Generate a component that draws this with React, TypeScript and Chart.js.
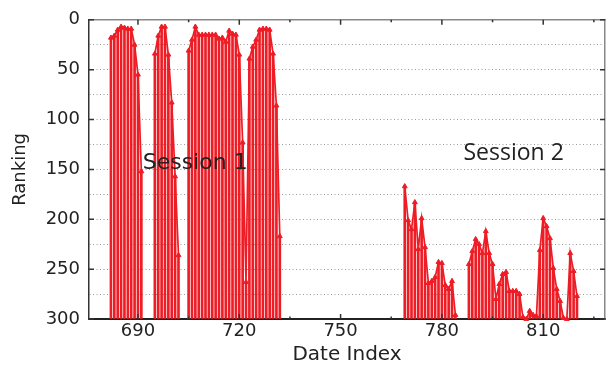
import React, { useEffect, useRef } from 'react';
import { Chart, registerables } from 'chart.js';

Chart.register(...registerables);

// ---- Data (Date Index runs, ranking values) ----
const run1Start = 682;
const run1Ranking = [18, 16, 10, 7, 8, 9, 9, 25, 55, 152];
const run2Start = 695;
const run2Ranking = [34, 16, 7, 7, 35, 83, 157, 236];
const run3Start = 705;
const run3Ranking = [
  31, 20, 7, 15, 15, 15, 15, 15, 15, 19, 18, 22, 11, 14, 15, 35, 123, 263,
  39, 27, 20, 10, 9, 9, 10, 34, 86, 217,
];
const run4Start = 769;
const run4Ranking = [167, 201, 210, 183, 230, 199, 228, 264, 262, 258, 243, 244, 266, 270, 262, 296];
const run5Start = 788;
const run5Ranking = [
  245, 232, 220, 225, 234, 212, 234, 245, 280, 265, 255, 253, 272, 272, 272, 275, 298,
  300, 292, 296, 297, 231, 199, 207, 219, 249, 270, 282, 299, 300, 234, 252, 277,
];

const runStarts = [run1Start, run2Start, run3Start, run4Start, run5Start];
const runValues = [run1Ranking, run2Ranking, run3Ranking, run4Ranking, run5Ranking];

const xTickValues = [690, 720, 750, 780, 810];
const xMinorTickValues = [705, 735, 765, 795, 825];
const yMajorTickValues = [0, 50, 100, 150, 200, 250, 300];

const sessionLabels = ['Session 1', 'Session 2'];
const sessionAnchorX = [691.4, 786.4];
const sessionAnchorY = [149.5, 140.6];

const X_MIN = 675.5;
const X_MAX = 828.3;
const RED = '#ee1c25';

export default function App() {
  const canvasRef = useRef<HTMLCanvasElement | null>(null);

  useEffect(() => {
    document.body.style.margin = '0';
    const canvas = canvasRef.current;
    if (!canvas) return;

    const lineData: { x: number; y: number | null }[] = [];
    runStarts.forEach((start, k) => {
      if (k > 0) lineData.push({ x: start - 1, y: null });
      runValues[k].forEach((v, i) => lineData.push({ x: start + i, y: v }));
    });
    const stemData = lineData.filter((p) => p.y !== null);

    const tickPlugin = {
      id: 'inwardTicks',
      afterDraw(chart: any) {
        const { ctx, chartArea, scales } = chart;
        const xs = scales.x;
        const ys = scales.y;
        ctx.save();
        ctx.strokeStyle = '#333';
        ctx.lineWidth = 1.5;
        const drawX = (v: number, len: number) => {
          const px = xs.getPixelForValue(v);
          ctx.beginPath();
          ctx.moveTo(px, chartArea.bottom);
          ctx.lineTo(px, chartArea.bottom - len);
          ctx.moveTo(px, chartArea.top);
          ctx.lineTo(px, chartArea.top + len);
          ctx.stroke();
        };
        xTickValues.forEach((v) => drawX(v, 5));
        xMinorTickValues.forEach((v) => drawX(v, 2.5));
        yMajorTickValues.forEach((v) => {
          const py = ys.getPixelForValue(v);
          ctx.beginPath();
          ctx.moveTo(chartArea.left, py);
          ctx.lineTo(chartArea.left + 5, py);
          ctx.moveTo(chartArea.right, py);
          ctx.lineTo(chartArea.right - 5, py);
          ctx.stroke();
        });
        // session annotations
        ctx.fillStyle = '#222';
        ctx.textBaseline = 'alphabetic';
        ctx.textAlign = 'left';
        sessionLabels.forEach((t, i) => {
          ctx.font = i === 0 ? '22px "DejaVu Sans"' : '23px "Open Sans"';
          ctx.fillText(t, xs.getPixelForValue(sessionAnchorX[i]), ys.getPixelForValue(sessionAnchorY[i]));
        });
        ctx.restore();
      },
    };

    const chart = new Chart(canvas, {
      type: 'line',
      data: {
        datasets: [
          {
            type: 'line',
            data: lineData as any,
            borderColor: RED,
            borderWidth: 1.7,
            pointStyle: 'triangle',
            pointRadius: 2.8,
            pointBackgroundColor: RED,
            pointBorderColor: RED,
            pointBorderWidth: 1,
            spanGaps: false,
            tension: 0,
            clip: false as any,
            order: 0,
          },
          {
            type: 'bar',
            data: stemData as any,
            base: 300,
            backgroundColor: RED,
            barThickness: 2,
            order: 1,
          } as any,
        ],
      },
      options: {
        animation: false,
        responsive: false,
        maintainAspectRatio: false,
        layout: { padding: { top: 16, right: 3, left: 0, bottom: 0 } },
        plugins: { legend: { display: false }, tooltip: { enabled: false } },
        scales: {
          x: {
            type: 'linear',
            min: X_MIN,
            max: X_MAX,
            offset: false,
            afterBuildTicks: (s: any) => {
              s.ticks = xTickValues.map((v) => ({ value: v }));
            },
            afterFit: (s: any) => {
              s.height = 49;
            },
            ticks: {
              padding: 2,
              color: '#222',
              font: { family: 'DejaVu Sans', size: 18 },
              maxRotation: 0,
              autoSkip: false,
            },
            grid: { drawOnChartArea: false, drawTicks: false },
            border: { color: '#222', width: 2 },
            title: {
              display: true,
              text: 'Date Index',
              color: '#222',
              font: { family: 'DejaVu Sans', size: 20 },
              padding: { top: 0, bottom: 1 },
            },
          },
          x2: {
            type: 'linear',
            position: 'top',
            min: X_MIN,
            max: X_MAX,
            ticks: { display: false },
            grid: { display: false, drawTicks: false },
            border: { color: '#888', width: 1.5 },
            afterFit: (s: any) => {
              s.height = 0;
            },
          },
          y: {
            type: 'linear',
            reverse: true,
            min: 0,
            max: 300,
            afterFit: (s: any) => {
              s.width = 89;
            },
            ticks: {
              stepSize: 25,
              padding: 9,
              color: '#222',
              font: { family: 'DejaVu Sans', size: 18 },
              callback: (v: any) => (Number(v) % 50 === 0 ? String(v) : ''),
            },
            grid: {
              drawTicks: false,
              color: (c: any) => (c.tick && (c.tick.value === 0 || c.tick.value === 300) ? 'rgba(0,0,0,0)' : '#9a9a9a'),
              lineWidth: 1,
            },
            border: { color: '#333', width: 1.5, dash: [1, 2.5] },
            title: {
              display: true,
              text: 'Ranking',
              color: '#222',
              font: { family: 'DejaVu Sans', size: 18 },
              padding: { top: 10, bottom: 0 },
            },
          },
          y2: {
            type: 'linear',
            position: 'right',
            min: 0,
            max: 300,
            reverse: true,
            ticks: { display: false },
            grid: { display: false, drawTicks: false },
            border: { color: '#888', width: 1.5 },
            afterFit: (s: any) => {
              s.width = 0;
            },
          },
        },
      } as any,
      plugins: [tickPlugin],
    });

    return () => {
      chart.destroy();
    };
  }, []);

  return (
    <div style={{ width: 610, height: 368 }}>
      <canvas ref={canvasRef} width={610} height={368} style={{ display: 'block' }} />
    </div>
  );
}
